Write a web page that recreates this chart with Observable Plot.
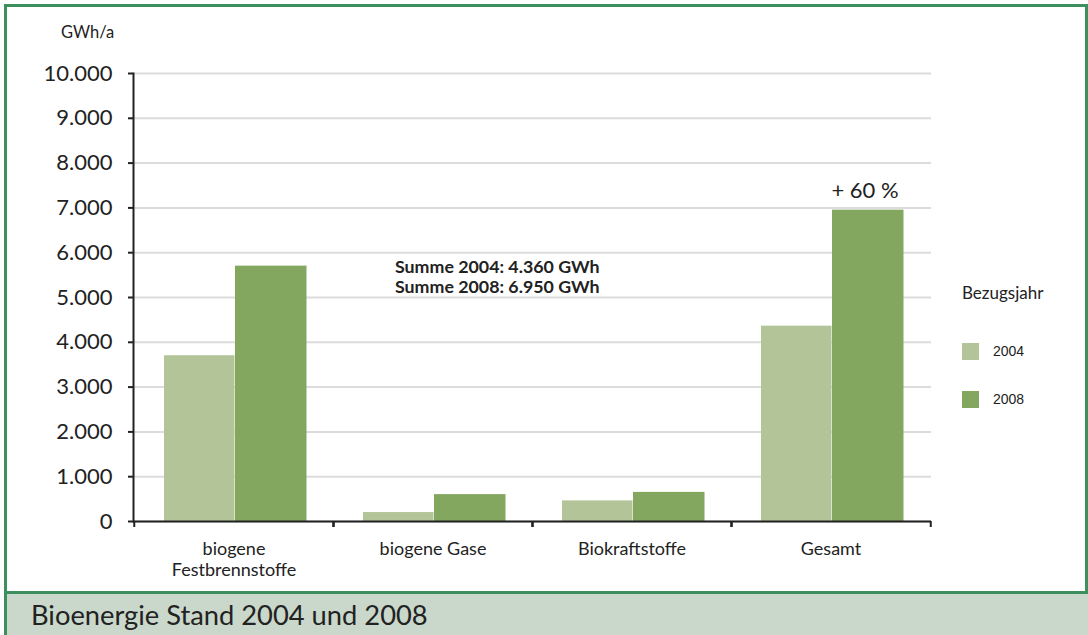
<!DOCTYPE html>
<html>
<head>
<meta charset="utf-8">
<script src="https://cdn.jsdelivr.net/npm/d3@7"></script>
<script src="https://cdn.jsdelivr.net/npm/@observablehq/plot@0.6"></script>
<style>
  html, body { margin: 0; padding: 0; background: #fff; }
  body { width: 1088px; height: 635px; position: relative; overflow: hidden; font-family: Lato, "Open Sans", sans-serif; color: #222; }
  #frame { position: absolute; left: 4px; top: 4px; width: 1084px; height: 631px; box-sizing: border-box;
           border: 3px solid #3e8f5e; border-bottom: none; background: #fff; }
  #chart { position: absolute; left: 0; top: 0; }
  #unit { position: absolute; left: 61px; top: 22px; font-size: 16.5px; line-height: 20px; }
  #summe { position: absolute; left: 395px; top: 256px; font-size: 17.8px; font-weight: bold; line-height: 20px; }
  #legend { position: absolute; left: 962px; top: 282px; }
  #legend .title { font-size: 17px; line-height: 21px; }
  #legend .item { position: absolute; left: 0; width: 110px; height: 17px; font-family: "Liberation Sans", Arial, sans-serif; font-size: 14px; }
  #legend .sw { position: absolute; left: 0; top: 0; width: 17px; height: 17px; }
  #legend .lab { position: absolute; left: 31px; top: 0; line-height: 17px; }
  #caption { position: absolute; left: 4px; top: 591px; width: 1084px; height: 44px; box-sizing: border-box;
             border-top: 3px solid #3e8f5e; border-left: 3px solid #3e8f5e; background: #c9d8ca; }
  #caption span { position: absolute; left: 24px; top: 8px; font-size: 27.3px; line-height: 26px; color: #222; white-space: nowrap; }
</style>
</head>
<body>
<div id="frame"></div>
<div id="chart"></div>
<div id="unit">GWh/a</div>
<div id="summe"></div>
<div id="legend"></div>
<div id="caption"><span></span></div>
<script>
const categories = ["biogene\nFestbrennstoffe", "biogene Gase", "Biokraftstoffe", "Gesamt"];
const years = ["2004", "2008"];
const values2004 = [3700, 200, 460, 4360];
const values2008 = [5700, 600, 650, 6950];
const colors = ["#b3c598", "#84a75f"];
const yTicks = [0, 1000, 2000, 3000, 4000, 5000, 6000, 7000, 8000, 9000, 10000];
const unitLabel = "GWh/a";
const legendTitle = "Bezugsjahr";
const summeLines = ["Summe 2004: 4.360 GWh", "Summe 2008: 6.950 GWh"];
const changeLabel = "+ 60 %";
const captionText = "Bioenergie Stand 2004 und 2008";

const de = d3.formatLocale({decimal: ",", thousands: ".", grouping: [3], currency: ["", " €"]});
const fmt = de.format(",d");

const data2004 = categories.map((c, i) => ({category: c, year: years[0], value: values2004[i]}));
const data2008 = categories.map((c, i) => ({category: c, year: years[1], value: values2008[i]}));

const half = (1088 - 133 - 157) / categories.length / 2;

const chart = Plot.plot({
  width: 1088,
  height: 590,
  marginLeft: 133,
  marginRight: 157,
  marginTop: 73,
  marginBottom: 69,
  style: {fontFamily: "Lato, 'Open Sans', sans-serif", background: "transparent", color: "#222"},
  x: {domain: categories, padding: 0, axis: null},
  y: {domain: [0, 10000], axis: null},
  marks: [
    Plot.gridY(yTicks, {stroke: "#dcdcdc", strokeOpacity: 1, strokeWidth: 2}),
    Plot.barY(data2004, {x: "category", y: "value", fill: colors[0], insetLeft: 30, insetRight: 98.5}),
    Plot.barY(data2008, {x: "category", y: "value", fill: colors[1], insetLeft: 101, insetRight: 26.5}),
    Plot.ruleY([0], {stroke: "#222", strokeWidth: 2}),
    Plot.frame({anchor: "left", stroke: "#222", strokeWidth: 2}),
    Plot.axisY({ticks: yTicks, tickFormat: fmt, tickSize: 5, tickPadding: 16, fontSize: 22, stroke: "#222", strokeWidth: 2, label: null}),
    Plot.axisX({tickSize: 6, tickFormat: () => "", dx: -half, stroke: "#222", strokeWidth: 2, label: null}),
    Plot.axisX({tickSize: 6, tickFormat: () => "", dx: half, stroke: "#222", strokeWidth: 2, label: null}),
    Plot.axisX({tickSize: 0, tickPadding: 18, fontSize: 18, lineHeight: 1.18, label: null}),
    Plot.text([changeLabel], {x: [categories[3]], y: [values2008[3]], dx: 34, dy: -19, fontSize: 22, fill: "#222"})
  ]
});
document.getElementById("chart").appendChild(chart);

document.getElementById("unit").textContent = unitLabel;
document.getElementById("summe").innerHTML = summeLines.map(s => `<div>${s}</div>`).join("");
document.querySelector("#caption span").textContent = captionText;

const legend = document.getElementById("legend");
legend.innerHTML = `<div class="title">${legendTitle}</div>` +
  years.map((y, i) => `<div class="item" style="top:${61 + i * 48}px"><div class="sw" style="background:${colors[i]}"></div><div class="lab">${y}</div></div>`).join("");
</script>
</body>
</html>
